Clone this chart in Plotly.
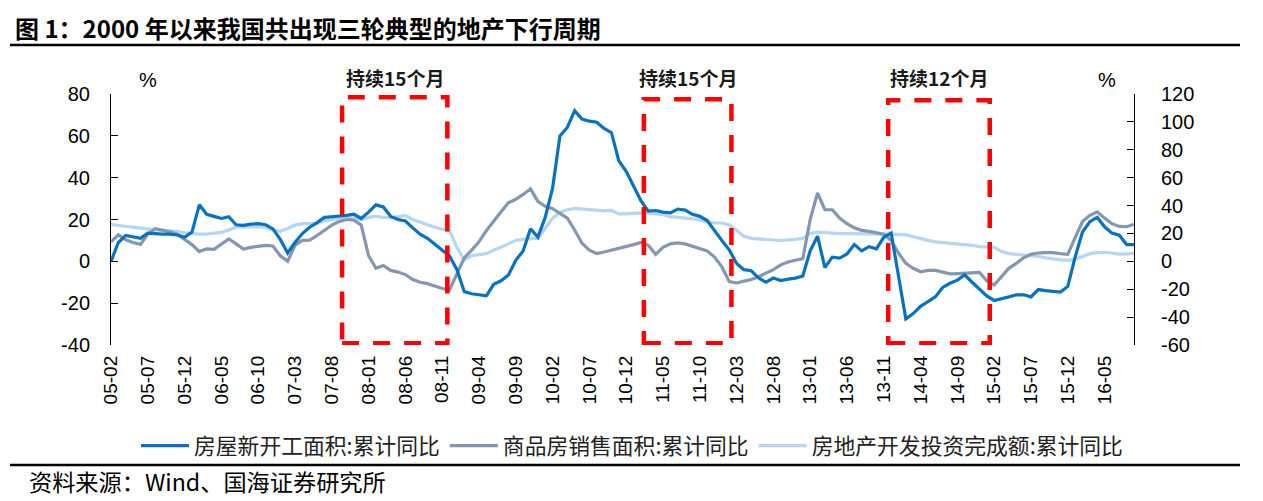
import plotly.graph_objects as go

# ---------------- data ----------------
start_year, start_month, n_months = 2005, 2, 140
months = []
yy, mm = start_year, start_month
for _ in range(n_months):
    months.append(f"{yy % 100:02d}-{mm:02d}")
    mm += 1
    if mm > 12:
        mm, yy = 1, yy + 1

tick_labels = ["05-02", "05-07", "05-12", "06-05", "06-10", "07-03", "07-08", "08-01",
               "08-06", "08-11", "09-04", "09-09", "10-02", "10-07", "10-12", "11-05",
               "11-10", "12-03", "12-08", "13-01", "13-06", "13-11", "14-04", "14-09",
               "15-02", "15-07", "15-12", "16-05"]

left_ticks = [-40, -20, 0, 20, 40, 60, 80]
right_ticks = [-60, -40, -20, 0, 20, 40, 60, 80, 100, 120]

# 房屋新开工面积:累计同比 (left axis)
new_start = [
    0, 9, 12.4, 11.6, 11, 13.5, 13.2, 13, 13, 12.6,
    11.5, 14, 27, 22.5, 21.5, 20.5, 21.3, 17.5, 17.2, 17.8,
    18, 17.5, 15.5, 10.5, 4, 9, 13.3, 16.3, 18.5, 21,
    21.3, 21.5, 22, 22.5, 20.5, 23.5, 27, 26, 21.5, 20,
    19.3, 16, 13, 11, 8, 5.5, 2.5, -4, -14.5, -15.5,
    -16, -16.5, -11, -9.3, -6.5, 0.5, 5, 15.6, 11.6, 21,
    35, 60, 64, 72, 68, 67, 66.5, 63.5, 61.5, 48,
    43, 35.6, 29, 24, 24.3, 23.5, 23.2, 25, 24.5, 22.5,
    21.5, 19.5, 14.5, 10, 5.5, -1, -4, -4.5, -8, -10,
    -8, -9.2, -8.5, -8, -7, 5, 12, -3, 2, 1.5,
    3.5, 8, 5, 7, 6, 11.5, 13.5, -6, -27.5, -25,
    -21.5, -19.3, -17, -12.5, -10.5, -9, -6.5, -10, -13, -16.5,
    -18.7, -18, -17, -16, -16, -17, -13.5, -14, -14.5, -14.7,
    -12, 2, 14, 19, 21, 16.5, 13.5, 12.5, 8, 8,
]

# 商品房销售面积:累计同比 (right axis)
sales_area = [
    13.9, 19, 15.5, 13.5, 12.2, 19.5, 23.4, 22.5, 21.1, 19.5,
    16, 12, 7, 9, 8.6, 12.5, 16, 12.5, 8.8, 10,
    10.8, 11.5, 11, 4, 0, 11.5, 15.1, 15.2, 18.5, 22.5,
    26, 28.5, 30, 29.5, 26, 4, -5, -3, -6.5, -7.7,
    -9.5, -13, -15, -16, -18, -19.5, -20.5, -9, 2.5, 8,
    14, 22, 29, 35.5, 42, 44.5, 48, 52, 43, 39.5,
    37.7, 34.5, 31, 22.5, 13, 8, 5.5, 6.7, 8, 9,
    10.5, 12, 13.5, 11.5, 5, 10, 12.5, 13.2, 12.5, 11,
    9, 7.5, 3, -4, -14.5, -15.5, -14.2, -13, -11, -8.5,
    -6, -2.5, -0.5, 0.8, 1.9, 30, 49, 37, 37, 31,
    27, 24, 22.2, 21.5, 20.5, 19.5, 15, 6, -1.5, -5,
    -7.5, -6.5, -6.5, -8, -9, -8.8, -8.4, -8.5, -8, -14,
    -17, -11, -5, -1.5, 2.5, 5, 6, 6.2, 6.2, 5.5,
    5, 17, 28.5, 33, 35.5, 31, 27, 25, 24.8, 26.6,
]

# 房地产开发投资完成额:累计同比 (right axis)
investment = [
    26.5, 25.5, 25, 24.5, 23.7, 23.2, 22.5, 22.2, 22, 21.5,
    20.5, 20, 19.5, 19.6, 20.2, 20.8, 22.5, 24.5, 24.8, 24.8,
    24.8, 24.5, 22.5, 21.5, 23.5, 26, 27, 27.2, 27, 29,
    30.2, 31, 31.8, 31, 30, 31.5, 32.3, 31.5, 31.3, 32,
    33, 30, 28, 26, 24.5, 23, 22, 10, 1, 4,
    4.5, 5.5, 8, 10, 12.5, 15, 15.8, 16.3, 16.5, 24,
    31, 35, 37, 38, 37.5, 37, 36.2, 36.2, 36.5, 34,
    34, 34.5, 34.7, 34.5, 34.2, 33.5, 32, 31.5, 31.3, 30.5,
    29.5, 28.5, 27.5, 27.5, 26, 22.2, 18, 16.5, 16, 15.6,
    15.3, 15.1, 15.3, 15.8, 16.5, 20, 21, 20.5, 20, 19.9,
    19.9, 19.9, 19.8, 19.8, 19.6, 19.5, 19.5, 19.4, 19, 17.5,
    16.5, 15, 14, 13.5, 13, 12.5, 12.2, 11.5, 10.5, 10.3,
    10, 7, 5.5, 5, 4.5, 4.2, 3.5, 2.5, 1.5, 1,
    0.7, 1.5, 3.5, 5.5, 6.2, 6.5, 6, 5.2, 5.4, 5.8,
]

names = ["房屋新开工面积:累计同比", "商品房销售面积:累计同比", "房地产开发投资完成额:累计同比"]
colors = ["#0872C0", "#8497B0", "#B4D5F3"]
captions = ["持续15个月", "持续15个月", "持续12个月"]

# ---------------- layout helpers ----------------
OFF = 8                      # page body margin
W, H = 1263 - OFF, 501 - OFF
L, R, T, B = 111 - OFF, 129, 94 - OFF, 156
pw, ph = W - L - R, H - T - B

def px(xp):
    """reference pixel x -> paper x"""
    return (xp - OFF - L) / pw

def py(yp):
    """reference pixel y -> paper y"""
    return (H - B - (yp - OFF)) / ph

x = list(range(len(months)))
FONT_NUM = "Arial, Liberation Sans, sans-serif"
FONT_CJK = "Noto Sans CJK SC, sans-serif"

fig = go.Figure()
fig.add_trace(go.Scatter(x=x, y=investment, name=names[2], yaxis="y", mode="lines",
                         line=dict(color=colors[2], width=3.2), legendrank=3))
fig.add_trace(go.Scatter(x=x, y=sales_area, name=names[1], yaxis="y", mode="lines",
                         line=dict(color=colors[1], width=3.2), legendrank=2))
fig.add_trace(go.Scatter(x=x, y=new_start, name=names[0], yaxis="y2", mode="lines",
                         line=dict(color=colors[0], width=3.2), legendrank=1))

tickvals = [months.index(t) for t in tick_labels]

axis_common = dict(showgrid=False, zeroline=False, showline=True, linecolor="#000000",
                   linewidth=1, ticks="inside", ticklen=7, tickcolor="#000000",
                   tickfont=dict(family=FONT_NUM, size=20, color="#000000"))

fig.update_layout(
    width=W, height=H,
    margin=dict(l=L, r=R, t=T, b=B, autoexpand=False),
    plot_bgcolor="white", paper_bgcolor="white",
    showlegend=True,
    legend=dict(orientation="h", x=px(632), xanchor="center", y=py(446), yanchor="middle",
                font=dict(family=FONT_CJK, size=21.8, color="#222222"),
                bgcolor="rgba(0,0,0,0)", itemwidth=48, traceorder="normal"),
    xaxis=dict(range=[0, len(months) - 1], tickmode="array", tickvals=tickvals,
               ticktext=tick_labels, tickangle=-90, showline=False, ticks="",
               showgrid=False, zeroline=False, ticklabelstandoff=6,
               tickfont=dict(family=FONT_NUM, size=19, color="#000000")),
    xaxis2=dict(overlaying="x", matches="x", anchor="free", position=1 / 3, side="bottom",
                range=[0, len(months) - 1], tickmode="array", tickvals=tickvals,
                showticklabels=False, showgrid=False, zeroline=False, showline=True,
                linecolor="#000000", linewidth=1, ticks="inside", ticklen=7,
                tickcolor="#000000"),
    yaxis=dict(side="right", anchor="x", range=[-60, 120], tickmode="array",
               tickvals=right_ticks, ticktext=[str(v) for v in right_ticks],
               ticklabelstandoff=22, **axis_common),
    yaxis2=dict(side="left", overlaying="y", anchor="x", range=[-40, 80], tickmode="array",
                tickvals=left_ticks, ticktext=[str(v) for v in left_ticks],
                ticklabelstandoff=16, **axis_common),
)

shapes = []
annotations = []
# dashed boxes: (x start, x end) in month-index units, top in left-axis units
box_geom = [(31.4, 45.7, 78.5), (72.4, 84.3, 77.5), (105.6, 119.4, 77.0)]
for (x0, x1, top), cap in zip(box_geom, captions):
    shapes.append(dict(type="rect", xref="x", yref="y2", x0=x0, x1=x1, y0=-39.2, y1=top,
                       line=dict(color="#FF0000", width=4.5, dash="17px,14px"),
                       fillcolor="rgba(0,0,0,0)", layer="above"))
    annotations.append(dict(text=f"<b>{cap}</b>", xref="x", yref="paper", x=(x0 + x1) / 2,
                            y=py(77), xanchor="center", yanchor="middle", showarrow=False,
                            font=dict(family=FONT_CJK, size=19, color="#1a1a1a")))

# rules under title and above source
shapes.append(dict(type="line", xref="paper", yref="paper", x0=px(10), x1=px(1240),
                   y0=py(45), y1=py(45), line=dict(color="#000000", width=2.5)))
shapes.append(dict(type="line", xref="paper", yref="paper", x0=px(10), x1=px(1240),
                   y0=py(465), y1=py(465), line=dict(color="#000000", width=2.5)))

annotations += [
    dict(text="图 1：2000 年以来我国共出现三轮典型的地产下行周期", xref="paper", yref="paper",
         x=px(13), y=py(27), xanchor="left", yanchor="middle", showarrow=False,
         font=dict(family=FONT_CJK, size=24, color="#000000", weight="bold")),
    dict(text="资料来源：Wind、国海证券研究所", xref="paper", yref="paper",
         x=px(27), y=py(481), xanchor="left", yanchor="middle", showarrow=False,
         font=dict(family=FONT_CJK, size=23.2, color="#000000")),
    dict(text="%", xref="paper", yref="paper", x=px(148), y=py(80), xanchor="center",
         yanchor="middle", showarrow=False, font=dict(family=FONT_NUM, size=20, color="#000000")),
    dict(text="%", xref="paper", yref="paper", x=px(1107), y=py(80), xanchor="center",
         yanchor="middle", showarrow=False, font=dict(family=FONT_NUM, size=20, color="#000000")),
]

fig.update_layout(shapes=shapes, annotations=annotations)
fig.write_html("out.html")
